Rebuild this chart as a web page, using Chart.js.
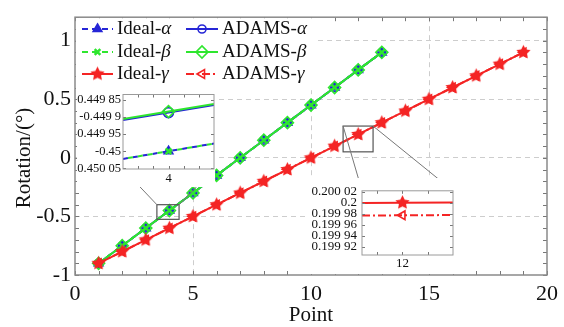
<!DOCTYPE html>
<html><head><meta charset="utf-8">
<script src="https://cdn.jsdelivr.net/npm/chart.js@4.4.1/dist/chart.umd.min.js"></script>
<style>
html,body{margin:0;padding:0;background:#fff;}
#wrap{position:relative;width:564px;height:327px;overflow:hidden;}
#main{position:absolute;left:0;top:0;}
.inset{position:absolute;background:#fff;}
</style></head><body>
<div id="wrap">
<canvas id="main" width="564" height="327"></canvas>
<canvas id="in1" class="inset" width="138" height="102" style="left:77px;top:85px;"></canvas>
<canvas id="in2" class="inset" width="150" height="96" style="left:308px;top:178px;"></canvas>
</div>
<script>
// ---------------- data (main plot) ----------------
const pointsAB = [1,2,3,4,5,6,7,8,9,10,11,12,13];
const pointsG  = [1,2,3,4,5,6,7,8,9,10,11,12,13,14,15,16,17,18,19];
const idealAlpha = [-0.9,-0.75,-0.6,-0.45,-0.3,-0.15,0,0.15,0.3,0.45,0.6,0.75,0.9];
const adamsAlpha = [-0.899887,-0.749887,-0.599887,-0.449887,-0.299887,-0.149887,0.000113,0.150113,0.300113,0.450113,0.600113,0.750113,0.900113];
const idealBeta  = [-0.9,-0.75,-0.6,-0.45,-0.3,-0.15,0,0.15,0.3,0.45,0.6,0.75,0.9];
const adamsBeta  = [-0.899884,-0.749884,-0.599884,-0.449884,-0.299884,-0.149884,0.000116,0.150116,0.300116,0.450116,0.600116,0.750116,0.900116];
const idealGamma = [-0.9,-0.8,-0.7,-0.6,-0.5,-0.4,-0.3,-0.2,-0.1,0,0.1,0.2,0.3,0.4,0.5,0.6,0.7,0.8,0.9];
const adamsGamma = [-0.900023,-0.800023,-0.700023,-0.600023,-0.500023,-0.400023,-0.300023,-0.200023,-0.100023,-0.000023,0.099977,0.199977,0.299977,0.399977,0.499977,0.599977,0.699977,0.799977,0.899977];

// ---------------- data (zoomed insets, read at the inset edges and centre) ----------------
const inset1X          = [3.99985, 4, 4.00015];
const inset1IdealAlpha = [-0.4500225, -0.45, -0.4499775];
const inset1AdamsAlpha = [-0.449909, -0.449887, -0.449865];
const inset1IdealBeta  = [-0.4500225, -0.45, -0.4499775];
const inset1AdamsBeta  = [-0.449906, -0.449884, -0.449862];
const inset2X          = [11.999996, 12, 12.000005];
const inset2IdealGamma = [0.1999996, 0.2, 0.2000005];
const inset2AdamsGamma = [0.1999766, 0.199977, 0.1999775];

// ---------------- ticks ----------------
const xTicks = [0,5,10,15,20];
const yTicks = [-1,-0.5,0,0.5,1];
const yTickLabels = ['-1','-0.5','0','0.5','1'];
const xMinorTicks = [0,1,2,3,4,5,6,7,8,9,10,11,12,13,14,15,16,17,18,19,20];
const yMinorTicks = [-1,-0.9,-0.8,-0.7,-0.6,-0.5,-0.4,-0.3,-0.2,-0.1,0,0.1,0.2,0.3,0.4,0.5,0.6,0.7,0.8,0.9,1,1.1,1.2];

const inset1XTicks = [4];
const inset1XLabels = ['4'];
const inset1XMinor = [3.9999,3.99995,4,4.00005,4.0001];
const inset1YTicks = [-0.45005,-0.45,-0.44995,-0.4499,-0.44985];
const inset1YLabels = ['-0.450 05','-0.45','-0.449 95','-0.449 9','-0.449 85'];

const inset2XTicks = [12];
const inset2XLabels = ['12'];
const inset2XMinor = [11.9999975,12,12.0000025];
const inset2YTicks = [0.19992,0.19994,0.19996,0.19998,0.2,0.20002];
const inset2YLabels = ['0.199 92','0.199 94','0.199 96','0.199 98','0.2','0.200 02'];

// ---------------- styles ----------------
const C_BLUE='#2626d6', C_GREEN='#2ee62e', C_RED='#f42424';
const SERIF="'Liberation Serif','Times New Roman',serif";
const GRID='#cdcdcd', FRAME='#8a8a8a', TICKC='#777';

function starCanvas(r,color){
  const s=Math.ceil(r*2+2); const c=document.createElement('canvas'); c.width=c.height=s;
  const g=c.getContext('2d'); g.fillStyle=color; g.beginPath();
  for(let i=0;i<10;i++){const a=-Math.PI/2+i*Math.PI/5; const rr=(i%2)?r*0.5:r; g.lineTo(s/2+rr*Math.cos(a),s/2+rr*Math.sin(a));}
  g.closePath(); g.fill(); return c;
}
const STAR = starCanvas(7.5,C_RED);

const series = [
  {label:'Ideal-α', x:pointsAB, y:idealAlpha, color:C_BLUE,  dash:[6,4], ps:'triangle', r:5, filled:true, order:5},
  {label:'ADAMS-α', x:pointsAB, y:adamsAlpha, color:C_BLUE,  dash:[],    ps:'circle',   r:4, filled:false, order:4},
  {label:'Ideal-β', x:pointsAB, y:idealBeta,  color:C_GREEN, dash:[6,4], ps:'crossRot', r:4, filled:true, order:3, pbw:2.5},
  {label:'ADAMS-β', x:pointsAB, y:adamsBeta,  color:C_GREEN, dash:[],    ps:'rectRot',  r:6, filled:false, order:2},
  {label:'Ideal-γ', x:pointsG,  y:idealGamma, color:C_RED,   dash:[],    ps:STAR,       r:7, filled:true, order:0},
  {label:'ADAMS-γ', x:pointsG,  y:adamsGamma, color:C_RED,   dash:[8,3,2,3], ps:'triangle', rot:-90, r:5, filled:false, order:1},
];

function mk(s, o){
  o=o||{};
  const xs=o.x||s.x, ys=o.y||s.y;
  return {
    label:s.label, data:xs.map((x,i)=>({x:x,y:ys[i]})),
    borderColor:s.color, backgroundColor:s.color, borderWidth:o.bw||2,
    borderDash:o.dash||s.dash, borderDashOffset:o.dashOffset||0,
    pointStyle:s.ps, pointRadius:o.radii||s.r, pointRotation:s.rot||0,
    pointBorderColor:s.color, pointBackgroundColor:s.filled?s.color:'rgba(0,0,0,0)',
    pointBorderWidth:s.pbw||1.6, order:s.order, tension:0, fill:false
  };
}

// ---------------- plugins ----------------
const framePlugin = {
  id:'frame',
  afterDatasetsDraw(chart, args, o){
    const {ctx, chartArea:a, scales} = chart;
    ctx.save();
    ctx.strokeStyle=o.tickColor; ctx.lineWidth=1;
    ctx.beginPath();
    o.xMinor.forEach(v=>{const p=Math.round(scales.x.getPixelForValue(v))+0.5;
      ctx.moveTo(p,a.bottom); ctx.lineTo(p,a.bottom-o.len); ctx.moveTo(p,a.top); ctx.lineTo(p,a.top+o.len);});
    o.yMinor.forEach(v=>{const p=Math.round(scales.y.getPixelForValue(v))+0.5;
      ctx.moveTo(a.left,p); ctx.lineTo(a.left+o.len,p); ctx.moveTo(a.right,p); ctx.lineTo(a.right-o.len,p);});
    ctx.stroke();
    ctx.strokeStyle=o.frameColor; ctx.lineWidth=o.frameWidth;
    ctx.strokeRect(a.left,a.top,a.right-a.left,a.bottom-a.top);
    ctx.restore();
  }
};

let inset1, inset2;
const zoomBox1 = {xMin:3.47, xMax:4.41, yMin:-0.525, yMax:-0.40};
const zoomBox2 = {xMin:11.36, xMax:12.63, yMin:0.051, yMax:0.271};

const mainDecor = {
  id:'decor',
  afterDatasetsDraw(chart){
    const {ctx, scales:{x,y}} = chart;
    ctx.save();
    const box = (b)=>({l:x.getPixelForValue(b.xMin), r:x.getPixelForValue(b.xMax), t:y.getPixelForValue(b.yMax), b:y.getPixelForValue(b.yMin)});
    const b1=box(zoomBox1), b2=box(zoomBox2);
    const c1=inset1.canvas, a1=inset1.chartArea, ox1=c1.offsetLeft, oy1=c1.offsetTop;
    const c2=inset2.canvas, a2=inset2.chartArea, ox2=c2.offsetLeft, oy2=c2.offsetTop;
    ctx.strokeStyle='#555'; ctx.lineWidth=1.2;
    ctx.strokeRect(b1.l,b1.t,b1.r-b1.l,b1.b-b1.t);
    ctx.strokeRect(b2.l,b2.t,b2.r-b2.l,b2.b-b2.t);
    ctx.strokeStyle='#777'; ctx.lineWidth=1;
    ctx.beginPath();
    ctx.moveTo(ox1+a1.left,oy1+a1.bottom); ctx.lineTo(b1.l,b1.t);
    ctx.moveTo(ox1+a1.right,oy1+a1.bottom); ctx.lineTo(b1.r,b1.t);
    ctx.moveTo(ox2+a2.left,oy2+a2.top); ctx.lineTo(b2.l,b2.t);
    ctx.moveTo(ox2+a2.right,oy2+a2.top); ctx.lineTo(b2.r,b2.t);
    ctx.stroke();

    // legend
    const a=chart.chartArea;
    ctx.fillStyle='#fff'; ctx.fillRect(a.left+1,a.top+1,240,72);
    const rows=[29,52,74], cols=[{l:82,r:113,t:117},{l:186,r:218,t:222}];
    chart.data.datasets.forEach((ds,i)=>{
      const row=Math.floor(i/2), col=cols[i%2], yy=rows[row];
      ctx.save();
      ctx.strokeStyle=ds.borderColor; ctx.lineWidth=2; ctx.setLineDash(ds.borderDash||[]);
      ctx.beginPath(); ctx.moveTo(col.l,yy); ctx.lineTo(col.r,yy); ctx.stroke();
      ctx.setLineDash([]);
      ctx.fillStyle=ds.pointBackgroundColor; ctx.strokeStyle=ds.pointBorderColor; ctx.lineWidth=ds.pointBorderWidth;
      if (Chart.helpers && Chart.helpers.drawPoint) {
        Chart.helpers.drawPoint(ctx,{pointStyle:ds.pointStyle,rotation:ds.pointRotation,radius:ds.pointRadius,borderWidth:ds.pointBorderWidth},(col.l+col.r)/2,yy);
      }
      ctx.restore();
      const lab=ds.label, pre=lab.slice(0,-1), gr=lab.slice(-1);
      ctx.fillStyle='#111'; ctx.textBaseline='middle'; ctx.textAlign='left';
      ctx.font='19px '+SERIF; ctx.fillText(pre,col.t,yy);
      const w=ctx.measureText(pre).width;
      ctx.font='italic 19px '+SERIF; ctx.fillText(gr,col.t+w,yy);
    });

    // y axis title
    ctx.fillStyle='#111'; ctx.font='21px '+SERIF; ctx.textAlign='center'; ctx.textBaseline='middle';
    ctx.translate(24,158); ctx.rotate(-Math.PI/2); ctx.fillText('Rotation/(°)',0,0);
    ctx.restore();
  }
};

// ---------------- insets ----------------
function insetConfig(datasets, xr, yr, xt, xl, xm, yt, yl, pad, yw, xh, fs, ypad, xpad){
  return {
    type:'line',
    data:{datasets:datasets},
    options:{
      responsive:false, animation:false, devicePixelRatio:1, events:[],
      layout:{padding:pad},
      plugins:{legend:{display:false}, tooltip:{enabled:false},
        frame:{xMinor:xm, yMinor:yt, len:3, tickColor:TICKC, frameColor:'#9a9a9a', frameWidth:1}},
      scales:{
        x:{type:'linear', min:xr[0], max:xr[1],
           afterBuildTicks:s=>{s.ticks=xt.map(v=>({value:v}));},
           afterFit:s=>{s.height=xh;},
           ticks:{autoSkip:false, maxRotation:0, padding:xpad, color:'#111', font:{family:SERIF,size:fs}, callback:(v,i)=>xl[i]},
           grid:{display:false, drawTicks:false}, border:{display:false}},
        y:{type:'linear', min:yr[0], max:yr[1],
           afterBuildTicks:s=>{s.ticks=yt.map(v=>({value:v}));},
           afterFit:s=>{s.width=yw;},
           ticks:{autoSkip:false, padding:ypad, color:'#111', font:{family:SERIF,size:fs}, callback:(v,i)=>yl[i]},
           grid:{display:false, drawTicks:false}, border:{display:false}}
      }
    },
    plugins:[framePlugin]
  };
}

const mid = (r)=>[0,r,0];
inset1 = new Chart(document.getElementById('in1'), insetConfig(
  [mk(series[1],{x:inset1X,y:inset1AdamsAlpha,radii:mid(5)}),
   mk(series[3],{x:inset1X,y:inset1AdamsBeta,radii:mid(6)}),
   mk(series[0],{x:inset1X,y:inset1IdealAlpha,radii:mid(5),dash:[5,5]}),
   mk(series[2],{x:inset1X,y:inset1IdealBeta,radii:mid(4),dash:[5,5],dashOffset:5})],
  [3.99985,4.00015], [-0.450052,-0.449834],
  inset1XTicks, inset1XLabels, inset1XMinor, inset1YTicks, inset1YLabels,
  {top:2,right:1,left:0,bottom:0}, 46, 18, 12.5, 2, 2));

inset2 = new Chart(document.getElementById('in2'), insetConfig(
  [mk(series[4],{x:inset2X,y:inset2IdealGamma,radii:mid(7)}),
   mk(series[5],{x:inset2X,y:inset2AdamsGamma,radii:mid(5)})],
  [11.999996,12.000005], [0.1999048,0.2000216],
  inset2XTicks, inset2XLabels, inset2XMinor, inset2YTicks, inset2YLabels,
  {top:4,right:5,left:0,bottom:0}, 54, 19, 13, 5, 1));

// ---------------- main ----------------
new Chart(document.getElementById('main'), {
  type:'line',
  data:{datasets:series.map(s=>mk(s))},
  options:{
    responsive:false, animation:false, devicePixelRatio:1, events:[],
    layout:{padding:{top:12,right:17,left:0,bottom:0}},
    plugins:{legend:{display:false}, tooltip:{enabled:false},
      frame:{xMinor:xMinorTicks, yMinor:yMinorTicks, len:4, tickColor:TICKC, frameColor:FRAME, frameWidth:1.5}},
    scales:{
      x:{type:'linear', min:0, max:20,
         afterBuildTicks:s=>{s.ticks=xTicks.map(v=>({value:v}));},
         afterFit:s=>{s.height=52;},
         ticks:{autoSkip:false, maxRotation:0, padding:6, color:'#111', font:{family:SERIF,size:22}, callback:v=>String(v)},
         grid:{drawTicks:false, lineWidth:1, color:c=>(c.tick&&(c.tick.value===0||c.tick.value===20))?'rgba(0,0,0,0)':GRID},
         border:{display:false, dash:[5,4]},
         title:{display:true, text:'Point', color:'#111', font:{family:SERIF,size:21}, padding:{top:0,bottom:-1}}},
      y:{type:'linear', min:-1, max:1.2,
         afterBuildTicks:s=>{s.ticks=yTicks.map(v=>({value:v}));},
         afterFit:s=>{s.width=75;},
         ticks:{autoSkip:false, padding:4, color:'#111', font:{family:SERIF,size:22}, callback:(v,i)=>yTickLabels[i]},
         grid:{drawTicks:false, lineWidth:1, color:c=>(c.tick&&c.tick.value===-1)?'rgba(0,0,0,0)':GRID},
         border:{display:false, dash:[5,4]}}
    }
  },
  plugins:[framePlugin, mainDecor]
});
</script>
</body></html>
